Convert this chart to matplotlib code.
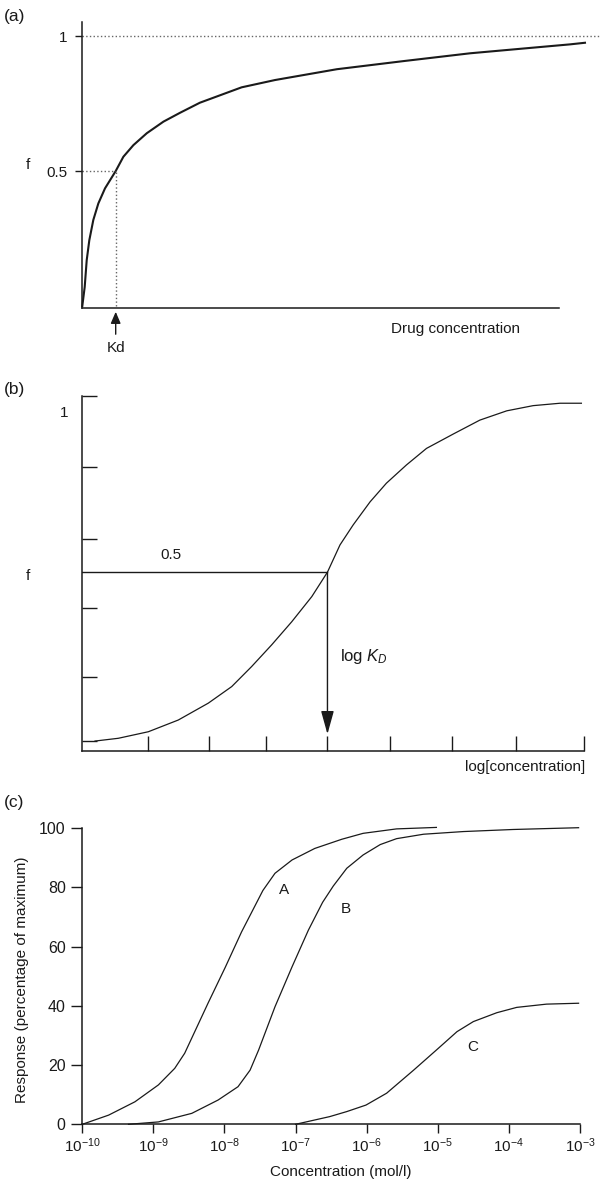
import matplotlib
matplotlib.use("Agg")
import matplotlib.pyplot as plt
import numpy as np

plt.rcParams['font.family'] = ['Liberation Sans', 'DejaVu Sans']
plt.rcParams['mathtext.fontset'] = 'custom'
plt.rcParams['mathtext.rm'] = 'Liberation Sans'
plt.rcParams['mathtext.it'] = 'Liberation Sans:italic'

# (a) binding curve, concentration in units of Kd
a_conc = [0, 0.072, 0.132, 0.21, 0.33, 0.48, 0.68, 1.0, 1.23, 1.53, 1.93, 2.43, 2.93,
          3.52, 4.77, 5.77, 7.62, 9.61, 11.61, 13.6, 14.6, 15.05]
a_frac = [0, 0.071, 0.170, 0.244, 0.319, 0.380, 0.436, 0.5, 0.553, 0.596, 0.640, 0.683,
          0.716, 0.753, 0.810, 0.837, 0.877, 0.907, 0.936, 0.958, 0.969, 0.975]
a_kd = 1.0

# (b) same thing on a log axis
b_logc = [0.203, 0.574, 1.053, 1.531, 2.01, 2.383, 2.70, 3.02, 3.34, 3.66, 3.91, 4.11,
          4.32, 4.59, 4.85, 5.17, 5.49, 5.92, 6.34, 6.77, 7.19, 7.62, 7.96]
b_frac = [-0.001, 0.007, 0.026, 0.060, 0.109, 0.157, 0.215, 0.278, 0.345, 0.418, 0.489,
          0.568, 0.626, 0.693, 0.747, 0.800, 0.848, 0.890, 0.930, 0.957, 0.972, 0.979, 0.979]
b_logkd = 3.91
b_half = 0.489
b_xticks = [1.05, 2.02, 2.93, 3.91, 4.91, 5.90, 6.91, 8.0]
b_yticks = [0, 0.184, 0.386, 0.586, 0.793, 1.0]

# (c) dose-response curves, log10 of concentration (mol/l)
A_exp = [-10, -9.63, -9.26, -8.93, -8.70, -8.56, -8.23, -7.99, -7.76, -7.46, -7.29,
         -7.05, -6.73, -6.35, -6.05, -5.58, -5.02]
A_resp = [0, 3.1, 7.6, 13.3, 18.9, 24.0, 41.0, 53.0, 65.0, 79.0, 84.8, 89.3, 93.2,
          96.3, 98.3, 99.8, 100.3]
B_exp = [-9.35, -8.93, -8.46, -8.09, -7.81, -7.64, -7.52, -7.29, -7.05, -6.82, -6.62,
         -6.47, -6.28, -6.05, -5.81, -5.58, -5.2, -4.64, -3.94, -3.02]
B_resp = [0, 0.8, 3.7, 8.2, 12.7, 18.3, 25.1, 39.7, 53.2, 65.6, 75.0, 80.5, 86.5, 91.0,
          94.5, 96.5, 98.0, 98.9, 99.6, 100.2]
C_exp = [-7.0, -6.52, -6.28, -6.01, -5.72, -5.34, -5.01, -4.73, -4.50, -4.17, -3.89,
         -3.47, -3.02]
C_resp = [0, 2.6, 4.3, 6.5, 10.5, 18.3, 25.3, 31.3, 34.7, 37.7, 39.5, 40.6, 40.9]
c_xticks = np.arange(-10, -2)
c_yticks = [0, 20, 40, 60, 80, 100]

W, H = 600, 1183
ink = '#1a1a1a'
fs = 11


def fx(px):
    return px / W


def fy(py):
    return 1 - py / H


fig = plt.figure(figsize=(W / 100, H / 100), dpi=100)

# ---------------- (a)
ax = fig.add_axes([fx(82.3), fy(308), 517.7 / W, 285.5 / H])
ax.set_xlim(0, 15.5)
ax.set_ylim(-0.007, 1.05)
for s in ['top', 'right']:
    ax.spines[s].set_visible(False)
ax.spines['bottom'].set_bounds(0, 14.26)
for s in ['left', 'bottom']:
    ax.spines[s].set_linewidth(1.1)
    ax.spines[s].set_color(ink)
ax.plot(a_conc, a_frac, color=ink, lw=1.5, clip_on=False)
ax.plot([0, 15.5], [1, 1], ls=':', color='0.4', lw=1, clip_on=False)
ax.plot([0, a_kd], [0.5, 0.5], ls=':', color='0.4', lw=1)
ax.plot([a_kd, a_kd], [0, 0.5], ls=':', color='0.4', lw=1)
ax.set_xticks([])
ax.set_yticks([0.5, 1])
ax.set_yticklabels(['0.5', '1'])
ax.tick_params(axis='y', direction='out', length=5, width=1, pad=6, labelsize=fs, colors=ink)
ax.annotate('', xy=(a_kd, -0.021), xytext=(a_kd, -0.104),
            arrowprops=dict(arrowstyle='-|>,head_length=0.7,head_width=0.3', color=ink,
                            lw=1, mutation_scale=10, shrinkA=0, shrinkB=0),
            annotation_clip=False)
ax.text(a_kd, -0.156, 'Kd', ha='center', va='center', fontsize=fs, color=ink)
ax.text(11.16, -0.085, 'Drug concentration', ha='center', va='center', fontsize=fs, color=ink)
fig.text(fx(28), fy(165), 'f', ha='center', va='center', fontsize=fs, color=ink)
fig.text(fx(4), fy(17), '(a)', ha='left', va='center', fontsize=12.5, color=ink)

# ---------------- (b)
ax = fig.add_axes([fx(82.3), fy(750.7), 8.2 * 62.7 / W, 361.6 / H])
ax.set_xlim(0, 8.2)
ax.set_ylim(-0.029, 1.02)
for s in ['top', 'right']:
    ax.spines[s].set_visible(False)
ax.spines['bottom'].set_bounds(0, 8.0)
ax.spines['left'].set_bounds(-0.029, 1.0)
for s in ['left', 'bottom']:
    ax.spines[s].set_linewidth(1.1)
    ax.spines[s].set_color(ink)
ax.plot(b_logc, b_frac, color=ink, lw=0.9)
ax.plot([0, b_logkd], [b_half, b_half], color=ink, lw=1.0)
ax.annotate('', xy=(b_logkd, 0.019), xytext=(b_logkd, b_half),
            arrowprops=dict(arrowstyle='-|>,head_length=1.3,head_width=0.36', color=ink,
                            lw=1, mutation_scale=11, shrinkA=0, shrinkB=0))
ax.set_xticks(b_xticks)
ax.set_yticks(b_yticks)
ax.set_xticklabels([])
ax.set_yticklabels([])
ax.tick_params(direction='in', length=10.5, width=1, colors=ink)
ax.text(1.41, 0.539, '0.5', ha='center', va='center', fontsize=fs, color=ink)
ax.text(4.11, 0.244, 'log $K_D$', ha='left', va='center', fontsize=fs + 1, color=ink)
ax.text(8.02, -0.077, 'log[concentration]', ha='right', va='center', fontsize=fs, color=ink)
fig.text(fx(64), fy(413), '1', ha='center', va='center', fontsize=fs, color=ink)
fig.text(fx(28), fy(576), 'f', ha='center', va='center', fontsize=fs, color=ink)
fig.text(fx(4), fy(390), '(b)', ha='left', va='center', fontsize=12.5, color=ink)

# ---------------- (c)
ax = fig.add_axes([fx(82.3), fy(1124.3), 497.7 / W, 296 / H])
ax.set_xscale('log')
ax.set_xlim(1e-10, 1e-3)
ax.set_ylim(0, 100)
for s in ['top', 'right']:
    ax.spines[s].set_visible(False)
for s in ['left', 'bottom']:
    ax.spines[s].set_linewidth(1.1)
    ax.spines[s].set_color(ink)
for ex, rs, name, pos in [(A_exp, A_resp, 'A', (-7.16, 79.2)),
                          (B_exp, B_resp, 'B', (-6.29, 72.6)),
                          (C_exp, C_resp, 'C', (-4.51, 26.2))]:
    ax.plot(10.0 ** np.array(ex), rs, color=ink, lw=0.9, clip_on=False)
    ax.text(10.0 ** pos[0], pos[1], name, ha='center', va='center', fontsize=fs, color=ink)
ax.set_xticks(10.0 ** c_xticks)
ax.set_xticklabels([r'$10^{%d}$' % e for e in c_xticks])
ax.xaxis.set_minor_locator(matplotlib.ticker.NullLocator())
ax.set_yticks(c_yticks)
ax.tick_params(axis='x', direction='out', length=6.5, width=1, pad=2, labelsize=fs, colors=ink)
ax.tick_params(axis='y', direction='out', length=8, width=1, pad=4, labelsize=fs + 0.5, colors=ink)
ax.set_xlabel('Concentration (mol/l)', fontsize=fs, color=ink)
ax.xaxis.set_label_coords((340.6 - 82.3) / 497.7, -(1165 - 1124.3) / 296)
ax.set_ylabel('Response (percentage of maximum)', fontsize=fs, color=ink)
ax.yaxis.set_label_coords((28.7 - 82.3) / 497.7, (1124.3 - 980) / 296)
fig.text(fx(4), fy(803), '(c)', ha='left', va='center', fontsize=12.5, color=ink)

fig.savefig('out.png', dpi=100)
